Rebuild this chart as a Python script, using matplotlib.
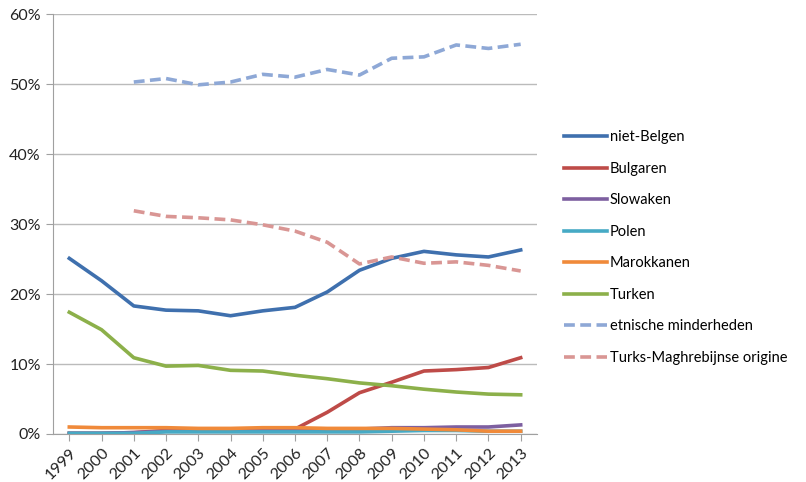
import matplotlib
matplotlib.use('Agg')
import matplotlib.pyplot as plt
from matplotlib.ticker import FuncFormatter

# jaren
years = list(range(1999, 2014))

# aandelen in % per groep (None = geen gegevens)
niet_belgen = [25.1, 21.9, 18.3, 17.7, 17.6, 16.9, 17.6, 18.1, 20.3, 23.4, 25.1, 26.1, 25.6, 25.3, 26.3]
bulgaren = [0.1, 0.1, 0.2, 0.5, 0.5, 0.5, 0.5, 0.7, 3.1, 5.9, 7.4, 9.0, 9.2, 9.5, 10.9]
slowaken = [0.1, 0.1, 0.2, 0.4, 0.4, 0.4, 0.5, 0.5, 0.6, 0.7, 0.9, 0.9, 1.0, 1.0, 1.3]
polen = [0.1, 0.1, 0.1, 0.3, 0.3, 0.3, 0.3, 0.3, 0.3, 0.3, 0.4, 0.5, 0.5, 0.4, 0.4]
marokkanen = [1.0, 0.9, 0.9, 0.9, 0.8, 0.8, 0.9, 0.9, 0.8, 0.8, 0.8, 0.7, 0.6, 0.4, 0.4]
turken = [17.4, 14.9, 10.9, 9.7, 9.8, 9.1, 9.0, 8.4, 7.9, 7.3, 6.9, 6.4, 6.0, 5.7, 5.6]
etnische = [None, None, 50.3, 50.8, 49.9, 50.3, 51.4, 51.0, 52.1, 51.3, 53.7, 53.9, 55.6, 55.1, 55.7]
turks_maghreb = [None, None, 31.9, 31.1, 30.9, 30.6, 29.9, 29.0, 27.4, 24.3, 25.3, 24.4, 24.6, 24.1, 23.3]

plt.rcParams['font.family'] = ['Lato', 'DejaVu Sans']

fig = plt.figure(figsize=(8.06, 4.82), dpi=100)
ax = fig.add_axes([0.066, 0.0996, 0.6, 0.871])

x = list(range(len(years)))

def nan(vals):
    return [float('nan') if v is None else v for v in vals]

ax.plot(x, niet_belgen, color='#3F70AE', lw=2.6, label='niet-Belgen')
ax.plot(x, bulgaren, color='#BE4B48', lw=2.6, label='Bulgaren')
ax.plot(x, slowaken, color='#7D5FA0', lw=2.6, label='Slowaken')
ax.plot(x, polen, color='#46AAC5', lw=2.6, label='Polen')
ax.plot(x, marokkanen, color='#F08A3A', lw=2.6, label='Marokkanen')
ax.plot(x, turken, color='#8CB04A', lw=2.6, label='Turken')
ax.plot(x, nan(etnische), color='#8EA8D6', lw=2.6, ls=(0, (3, 1.5)), label='etnische minderheden')
ax.plot(x, nan(turks_maghreb), color='#D99694', lw=2.6, ls=(0, (3, 1.5)), label='Turks-Maghrebijnse origine')

ax.set_xlim(-0.5, len(years) - 0.5)
ax.set_ylim(0, 60)
ax.set_yticks(range(0, 61, 10))
ax.yaxis.set_major_formatter(FuncFormatter(lambda v, p: '%d%%' % v))
ax.set_xticks(x)
ax.set_xticklabels([str(y) for y in years], rotation=45, ha='right', rotation_mode='anchor')

ax.grid(axis='y', color='#BBBBBB', lw=1)
ax.set_axisbelow(True)
for s in ['top', 'right']:
    ax.spines[s].set_visible(False)
ax.spines['left'].set_color('#A0A0A0')
ax.spines['bottom'].set_color('#A0A0A0')
ax.tick_params(axis='both', colors='#A0A0A0', labelcolor='#222222', labelsize=11.5, length=5)
ax.tick_params(axis='y', pad=4)

leg = fig.legend(loc='upper left', bbox_to_anchor=(0.683, 0.757), frameon=False,
                 fontsize=10.5, handlelength=3.0, handletextpad=0.15, labelspacing=1.2)

fig.savefig('out.png', dpi=100)
